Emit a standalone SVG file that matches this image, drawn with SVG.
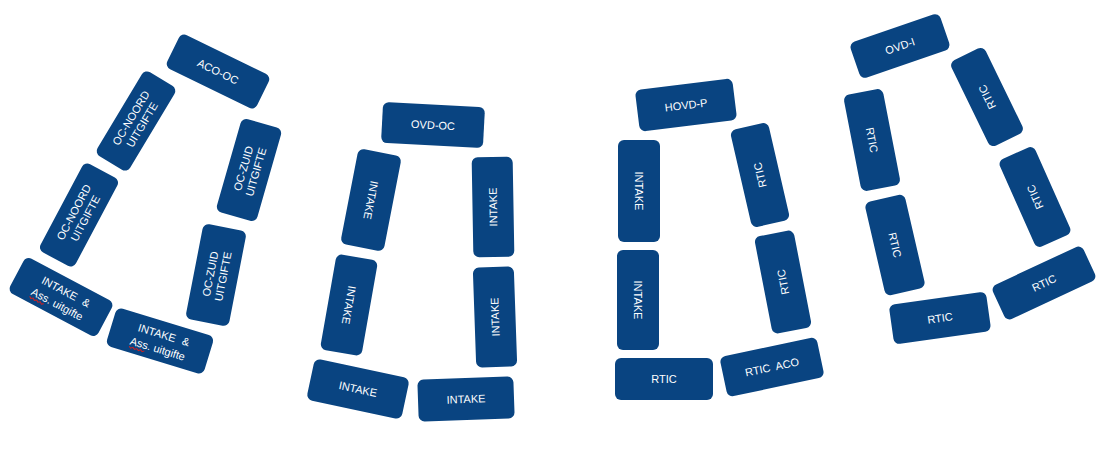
<svg xmlns="http://www.w3.org/2000/svg" width="1103" height="459" viewBox="0 0 1103 459">
<style>
.d rect{fill:#094481;}
.d text{fill:#ffffff;font-family:"Liberation Sans",Arial,sans-serif;font-size:11px;text-anchor:middle;}
.sq{fill:none;stroke:#d02020;stroke-width:1;}
</style>
<rect x="0" y="0" width="1103" height="459" fill="#ffffff"/>
<g id="connectors"/>
<g class="d">
<g id="aco-oc" transform="translate(218,71.5) rotate(26)"><rect x="-50" y="-19" width="100" height="38" rx="6"/><text y="4">ACO-OC</text></g>
<g id="oc-noord-1" transform="translate(136,121) rotate(-59)"><rect x="-49" y="-19" width="98" height="38" rx="6"/><text><tspan x="0" y="-2">OC-NOORD</tspan><tspan x="0" y="11">UITGIFTE</tspan></text></g>
<g id="oc-noord-2" transform="translate(79,215) rotate(-62)"><rect x="-50" y="-20" width="100" height="40" rx="6"/><text><tspan x="0" y="-2">OC-NOORD</tspan><tspan x="0" y="11">UITGIFTE</tspan></text></g>
<g id="intake-ass-1" transform="translate(61,297) rotate(28)"><rect x="-50" y="-20" width="100" height="40" rx="6"/><text><tspan x="2" y="-3" word-spacing="4">INTAKE &amp;</tspan><tspan x="0" y="12">Ass. uitgifte</tspan></text><path class="sq" d="M-28,14 l2,1.5 l2,-1.5 l2,1.5 l2,-1.5 l2,1.5 l2,-1.5 l2,1.5 l2,-1.5"/></g>
<g id="intake-ass-2" transform="translate(160,341) rotate(17)"><rect x="-51" y="-20" width="102" height="40" rx="6"/><text><tspan x="2" y="-3" word-spacing="4">INTAKE &amp;</tspan><tspan x="0" y="12">Ass. uitgifte</tspan></text><path class="sq" d="M-28,14 l2,1.5 l2,-1.5 l2,1.5 l2,-1.5 l2,1.5 l2,-1.5 l2,1.5 l2,-1.5"/></g>
<g id="oc-zuid-1" transform="translate(249,170) rotate(-74)"><rect x="-48.5" y="-21" width="97" height="42" rx="6"/><text><tspan x="0" y="-2">OC-ZUID</tspan><tspan x="0" y="11">UITGIFTE</tspan></text></g>
<g id="oc-zuid-2" transform="translate(216,275) rotate(-79)"><rect x="-48.5" y="-22" width="97" height="44" rx="6"/><text><tspan x="0" y="-2">OC-ZUID</tspan><tspan x="0" y="11">UITGIFTE</tspan></text></g>

<g id="ovd-oc" transform="translate(433,125) rotate(3)"><rect x="-51" y="-20.5" width="102" height="41" rx="6"/><text y="4">OVD-OC</text></g>
<g id="intake-c2-l1" transform="translate(371,200) rotate(101)"><rect x="-48.5" y="-22" width="97" height="44" rx="6"/><text y="4">INTAKE</text></g>
<g id="intake-c2-l2" transform="translate(349,305) rotate(100)"><rect x="-48.5" y="-21" width="97" height="42" rx="6"/><text y="4">INTAKE</text></g>
<g id="intake-c2-r1" transform="translate(493,207) rotate(-91)"><rect x="-50" y="-20.5" width="100" height="41" rx="6"/><text y="4">INTAKE</text></g>
<g id="intake-c2-r2" transform="translate(495,317) rotate(-92)"><rect x="-50" y="-20.5" width="100" height="41" rx="6"/><text y="4">INTAKE</text></g>
<g id="intake-c2-b1" transform="translate(358,389) rotate(12)"><rect x="-48.5" y="-21" width="97" height="42" rx="6"/><text y="4">INTAKE</text></g>
<g id="intake-c2-b2" transform="translate(466,399) rotate(-2)"><rect x="-48" y="-21" width="96" height="42" rx="6"/><text y="4">INTAKE</text></g>

<g id="hovd-p" transform="translate(686,105) rotate(-7)"><rect x="-49" y="-21" width="98" height="42" rx="6"/><text y="4">HOVD-P</text></g>
<g id="intake-c3-l1" transform="translate(639,191) rotate(90)"><rect x="-51" y="-21" width="102" height="42" rx="6"/><text y="4">INTAKE</text></g>
<g id="intake-c3-l2" transform="translate(638,300) rotate(90)"><rect x="-50" y="-21" width="100" height="42" rx="6"/><text y="4">INTAKE</text></g>
<g id="rtic-c3-r1" transform="translate(760,175) rotate(-103)"><rect x="-50" y="-19.5" width="100" height="39" rx="6"/><text y="4">RTIC</text></g>
<g id="rtic-c3-r2" transform="translate(783,282) rotate(-101)"><rect x="-49.5" y="-20" width="99" height="40" rx="6"/><text y="4">RTIC</text></g>
<g id="rtic-c3-b" transform="translate(664,379)"><rect x="-49" y="-21" width="98" height="42" rx="6"/><text y="4">RTIC</text></g>
<g id="rtic-aco" transform="translate(772,367) rotate(-12)"><rect x="-49.5" y="-20.5" width="99" height="41" rx="6"/><text y="4" word-spacing="3">RTIC ACO</text></g>

<g id="ovd-i" transform="translate(900,46) rotate(-19)"><rect x="-47.5" y="-19" width="95" height="38" rx="6"/><text y="4">OVD-I</text></g>
<g id="rtic-c4-l1" transform="translate(872,140) rotate(79)"><rect x="-49" y="-20" width="98" height="40" rx="6"/><text y="4">RTIC</text></g>
<g id="rtic-c4-l2" transform="translate(895,245) rotate(77)"><rect x="-48" y="-20.5" width="96" height="41" rx="6"/><text y="4">RTIC</text></g>
<g id="rtic-c4-r1" transform="translate(987,97) rotate(-116)"><rect x="-47.5" y="-19" width="95" height="38" rx="6"/><text y="4">RTIC</text></g>
<g id="rtic-c4-r2" transform="translate(1035,197) rotate(-114)"><rect x="-48" y="-19.5" width="96" height="39" rx="6"/><text y="4">RTIC</text></g>
<g id="rtic-c4-r3" transform="translate(1044,283) rotate(-25)"><rect x="-50" y="-19" width="100" height="38" rx="6"/><text y="4">RTIC</text></g>
<g id="rtic-c4-b" transform="translate(940,318) rotate(-8)"><rect x="-49" y="-20" width="98" height="40" rx="6"/><text y="4">RTIC</text></g>
</g>
</svg>
